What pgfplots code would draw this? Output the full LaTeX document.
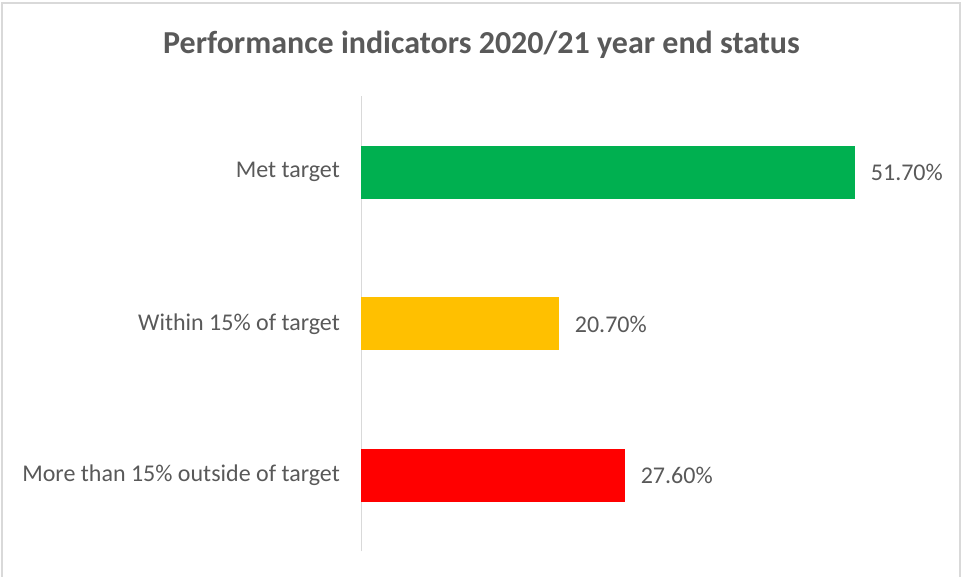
\documentclass[border=0pt]{standalone}
\usepackage{fontspec}
\setmainfont{Carlito}
\usepackage{pgfplots}
\pgfplotsset{compat=1.18}
\definecolor{txt}{HTML}{595959}
\definecolor{gridc}{HTML}{D9D9D9}
\definecolor{cgreen}{HTML}{00B050}
\definecolor{cyellow}{HTML}{FFC000}
\definecolor{cred}{HTML}{FF0000}
\begin{document}
\begin{tikzpicture}[x=1pt,y=1pt]
\useasboundingbox (0,0) rectangle (961,577);
\draw[gridc, line width=1.5pt] (2,0) -- (2,574) -- (960,574) -- (960,0);
\node[font=\fontsize{32}{36}\selectfont\bfseries, text=txt] at (481.5,532) {Performance indicators 2020/21 year end status};
\begin{axis}[
  at={(361pt,25.5pt)}, anchor=south west,
  scale only axis, width=573pt, height=455pt,
  xbar, xmin=0, xmax=60, ymin=-0.5, ymax=2.5,
  axis x line=none, axis y line*=left,
  axis line style={gridc, line width=1pt},
  ytick={0,1,2},
  yticklabels={More than 15\% outside of target, Within 15\% of target, Met target},
  major tick length=0pt,
  yticklabel style={font=\fontsize{24}{28}\selectfont, text=txt, inner sep=0pt, anchor=east, xshift=-21pt},
  bar width=53pt, bar shift=0pt,
  nodes near coords, point meta=explicit symbolic,
  every node near coord/.append style={font=\fontsize{24}{28}\selectfont, text=txt, anchor=west, inner sep=0pt, xshift=16pt},
]
\addplot[fill=cgreen, draw=none] coordinates {(51.7,2) [51.70\%]};
\addplot[fill=cyellow, draw=none] coordinates {(20.7,1) [20.70\%]};
\addplot[fill=cred, draw=none] coordinates {(27.6,0) [27.60\%]};
\end{axis}
\end{tikzpicture}
\end{document}
